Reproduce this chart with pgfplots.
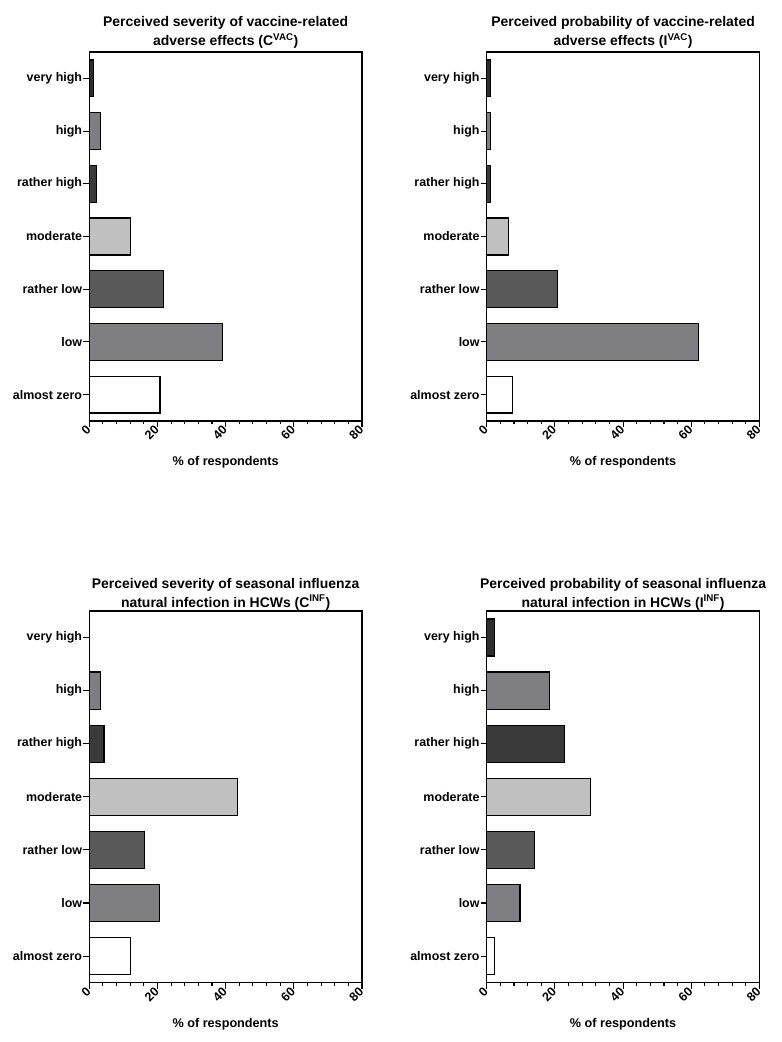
\documentclass[border=0pt]{standalone}
\usepackage{pgfplots}
\pgfplotsset{compat=1.18}
\usepackage{fontspec}
\setmainfont{Liberation Sans}
\definecolor{cVH}{HTML}{2E2E2E}
\definecolor{cH}{HTML}{7E7E83}
\definecolor{cRH}{HTML}{3A3A3A}
\definecolor{cM}{HTML}{C0C0C0}
\definecolor{cRL}{HTML}{595959}
\definecolor{cL}{HTML}{7E7E83}
\definecolor{cZ}{HTML}{FFFFFF}
\pgfplotsset{
  panel/.style={
    scale only axis, width=272.7bp, height=369bp,
    xmin=0, xmax=80, ymin=-0.5, ymax=6.5,
    xtick={0,20,40,60,80}, minor x tick num=4,
    ytick={0,1,2,3,4,5,6},
    yticklabels={almost zero,low,rather low,moderate,rather high,high,very high},
    tick align=outside, tick pos=left,
    major tick length=6bp, minor tick length=3.5bp,
    axis line style={line width=1.3bp},
    every tick/.style={black, line width=1.1bp},
    /pgf/number format/assume math mode=true,
    ticklabel style={font=\bfseries\fontsize{12.5}{14}\selectfont},
    yticklabel style={inner sep=1bp},
    xticklabel style={rotate=45, anchor=east, inner sep=1bp},
    xlabel={\% of respondents},
    xlabel style={font=\bfseries\fontsize{12.7}{14}\selectfont, at={(axis description cs:0.5,0)}, anchor=base, yshift=-45bp},
    title style={font=\bfseries\fontsize{14}{19}\selectfont, align=center, at={(axis description cs:0.5,1)}, anchor=south, yshift=-6bp},
    clip=false,
  },
  hb/.style={xbar, bar shift=0pt, bar width=0.7, draw=black, line width=1.3bp, fill=#1},
}
\begin{document}
\begin{tikzpicture}
\useasboundingbox (0,0) rectangle (782bp,1042bp);
% top-left
\begin{axis}[panel, at={(89.3bp,621bp)}, anchor=south west,
  title={Perceived severity of vaccine-related\\adverse effects (C\textsuperscript{VAC})}]
\addplot[hb=cVH] coordinates {(1.2,6)};
\addplot[hb=cH]  coordinates {(3.3,5)};
\addplot[hb=cRH] coordinates {(2.2,4)};
\addplot[hb=cM]  coordinates {(12.0,3)};
\addplot[hb=cRL] coordinates {(21.7,2)};
\addplot[hb=cL]  coordinates {(39.1,1)};
\addplot[hb=cZ]  coordinates {(20.7,0)};
\end{axis}
% top-right
\begin{axis}[panel, at={(486.7bp,621bp)}, anchor=south west,
  title={Perceived probability of vaccine-related\\adverse effects (I\textsuperscript{VAC})}]
\addplot[hb=cVH] coordinates {(1.1,6)};
\addplot[hb=cH]  coordinates {(1.1,5)};
\addplot[hb=cRH] coordinates {(1.1,4)};
\addplot[hb=cM]  coordinates {(6.4,3)};
\addplot[hb=cRL] coordinates {(20.7,2)};
\addplot[hb=cL]  coordinates {(62.1,1)};
\addplot[hb=cZ]  coordinates {(7.6,0)};
\end{axis}
% bottom-left
\begin{axis}[panel, height=371.7bp, at={(89.3bp,59.3bp)}, anchor=south west,
  title style={yshift=-2.5bp},
  title={Perceived severity of seasonal influenza\\natural infection in HCWs (C\textsuperscript{INF})}]
\addplot[hb=cH]  coordinates {(3.3,5)};
\addplot[hb=cRH] coordinates {(4.3,4)};
\addplot[hb=cM]  coordinates {(43.4,3)};
\addplot[hb=cRL] coordinates {(16.2,2)};
\addplot[hb=cL]  coordinates {(20.6,1)};
\addplot[hb=cZ]  coordinates {(12.0,0)};
\end{axis}
% bottom-right
\begin{axis}[panel, height=371.7bp, at={(486.7bp,59.3bp)}, anchor=south west,
  title style={yshift=-2.5bp},
  title={Perceived probability of seasonal influenza\\natural infection in HCWs (I\textsuperscript{INF})}]
\addplot[hb=cVH] coordinates {(2.2,6)};
\addplot[hb=cH]  coordinates {(18.5,5)};
\addplot[hb=cRH] coordinates {(22.8,4)};
\addplot[hb=cM]  coordinates {(30.4,3)};
\addplot[hb=cRL] coordinates {(14.1,2)};
\addplot[hb=cL]  coordinates {(9.8,1)};
\addplot[hb=cZ]  coordinates {(2.2,0)};
\end{axis}
\end{tikzpicture}
\end{document}
